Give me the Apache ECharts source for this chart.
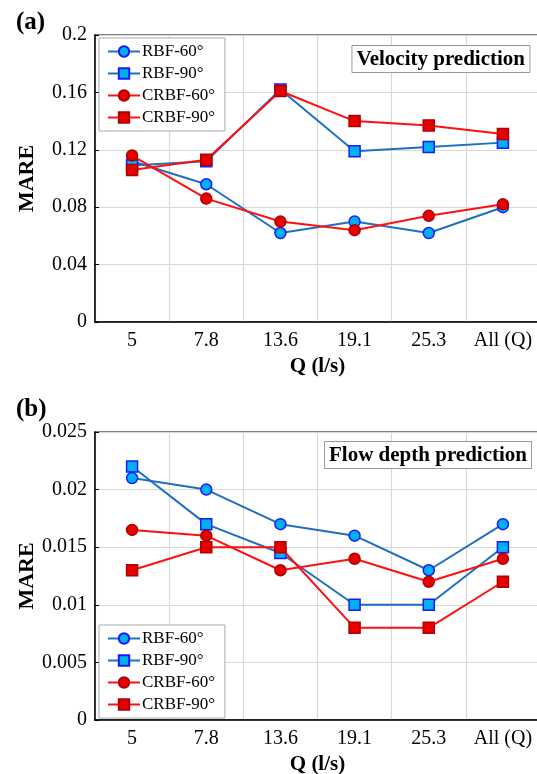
<!DOCTYPE html>
<html lang="en">
<head>
  <meta charset="UTF-8">
  <title>MARE</title>
  <style>
    html, body { margin: 0; padding: 0; background: #fff; }
    #chart { width: 537px; height: 774px; }
  </style>
</head>
<body>
  <div id="chart"></div>
  <script src="https://cdn.jsdelivr.net/npm/echarts@6/dist/echarts.min.js"></script>
  <script>
    var categories = ['5', '7.8', '13.6', '19.1', '25.3', 'All (Q)'];
    var seriesNames = ['RBF-60°', 'RBF-90°', 'CRBF-60°', 'CRBF-90°'];

    // (a) velocity prediction
    var velRbf60 = [0.112, 0.096, 0.062, 0.070, 0.062, 0.080];
    var velRbf90 = [0.109, 0.112, 0.162, 0.119, 0.122, 0.125];
    var velCrbf60 = [0.116, 0.086, 0.070, 0.064, 0.074, 0.082];
    var velCrbf90 = [0.106, 0.113, 0.161, 0.140, 0.137, 0.131];

    // (b) flow depth prediction
    var depRbf60 = [0.021, 0.020, 0.017, 0.016, 0.013, 0.017];
    var depRbf90 = [0.022, 0.017, 0.0145, 0.010, 0.010, 0.015];
    var depCrbf60 = [0.0165, 0.016, 0.013, 0.014, 0.012, 0.014];
    var depCrbf90 = [0.013, 0.015, 0.015, 0.008, 0.008, 0.012];

    var serif = 'Liberation Serif';
    var styles = [
      { line: '#1f6fc0', fill: '#00b0f0', border: '#1a1aff', symbol: 'circle' },
      { line: '#1f6fc0', fill: '#00b0f0', border: '#1a1aff', symbol: 'rect' },
      { line: '#ff1010', fill: '#e60000', border: '#b00000', symbol: 'circle' },
      { line: '#ff1010', fill: '#e60000', border: '#b00000', symbol: 'rect' }
    ];

    function makeSeries(idx, values, gi) {
      var s = styles[idx];
      return {
        name: seriesNames[idx],
        type: 'line',
        xAxisIndex: gi,
        yAxisIndex: gi,
        data: values,
        symbol: s.symbol,
        symbolSize: 11,
        lineStyle: { color: s.line, width: 2 },
        itemStyle: { color: s.fill, borderColor: s.border, borderWidth: 1.5 },
        emphasis: { disabled: true },
        z: 3 + idx
      };
    }

    function xAxis(gi) {
      return {
        type: 'category',
        gridIndex: gi,
        data: categories,
        name: 'Q (l/s)',
        nameLocation: 'middle',
        nameGap: 34,
        nameMoveOverlap: false,
        nameTextStyle: { fontFamily: serif, fontWeight: 'bold', fontSize: 21, color: '#000' },
        axisLine: { lineStyle: { color: '#000', width: 1.5 } },
        axisTick: { inside: true, length: 5, interval: 0, lineStyle: { color: '#000' } },
        axisLabel: { interval: 0, fontFamily: serif, fontSize: 20, color: '#000', margin: 9 },
        splitLine: { show: true, interval: 0, lineStyle: { color: '#d9d9d9', width: 1.2 } }
      };
    }

    function yAxis(gi, max, interval) {
      return {
        type: 'value',
        gridIndex: gi,
        min: 0,
        max: max,
        interval: interval,
        name: 'MARE',
        nameLocation: 'middle',
        nameGap: 57,
        nameMoveOverlap: false,
        nameTextStyle: { fontFamily: serif, fontWeight: 'bold', fontSize: 22, color: '#000' },
        axisLine: { show: true, lineStyle: { color: '#000', width: 1.5 } },
        axisTick: { show: true, inside: true, length: 4, lineStyle: { color: '#000' } },
        axisLabel: { fontFamily: serif, fontSize: 20, color: '#000', margin: 8 },
        splitLine: { show: true, lineStyle: { color: '#d9d9d9', width: 1.2 } }
      };
    }

    function legend(top) {
      return {
        left: 99,
        top: top,
        orient: 'vertical',
        data: seriesNames,
        itemWidth: 32,
        itemHeight: 13,
        itemGap: 5,
        padding: [5, 10, 5, 8],
        borderColor: '#aaa',
        borderWidth: 1,
        backgroundColor: '#fff',
        selectedMode: false,
        textStyle: { fontFamily: serif, fontSize: 17, color: '#000', padding: [0, 0, 0, -3] }
      };
    }

    function boxTitle(text, right, top) {
      return {
        text: text,
        right: right,
        top: top,
        padding: [4, 5, 3, 5],
        borderColor: '#999',
        borderWidth: 1,
        backgroundColor: '#fff',
        textStyle: { fontFamily: serif, fontWeight: 'bold', fontSize: 21, color: '#000' }
      };
    }

    var myChart = echarts.init(document.getElementById('chart'));
    myChart.setOption({
      animation: false,
      title: [
        { text: '(a)', left: 11, top: 5, textStyle: { fontFamily: serif, fontWeight: 'bold', fontSize: 25, color: '#000' } },
        { text: '(b)', left: 11, top: 392, textStyle: { fontFamily: serif, fontWeight: 'bold', fontSize: 25, color: '#000' } },
        boxTitle('Velocity prediction', 7, 45),
        boxTitle('Flow depth prediction', 5, 441)
      ],
      legend: [legend(38), legend(625)],
      grid: [
        { left: 95, top: 35, width: 445, height: 287, outerBoundsMode: 'none', show: true, borderColor: '#555', borderWidth: 1.5 },
        { left: 95, top: 432, width: 445, height: 288, outerBoundsMode: 'none', show: true, borderColor: '#555', borderWidth: 1.5 }
      ],
      xAxis: [xAxis(0), xAxis(1)],
      yAxis: [yAxis(0, 0.2, 0.04), yAxis(1, 0.025, 0.005)],
      series: [
        makeSeries(0, velRbf60, 0),
        makeSeries(1, velRbf90, 0),
        makeSeries(2, velCrbf60, 0),
        makeSeries(3, velCrbf90, 0),
        makeSeries(0, depRbf60, 1),
        makeSeries(1, depRbf90, 1),
        makeSeries(2, depCrbf60, 1),
        makeSeries(3, depCrbf90, 1)
      ]
    });
  </script>
</body>
</html>
